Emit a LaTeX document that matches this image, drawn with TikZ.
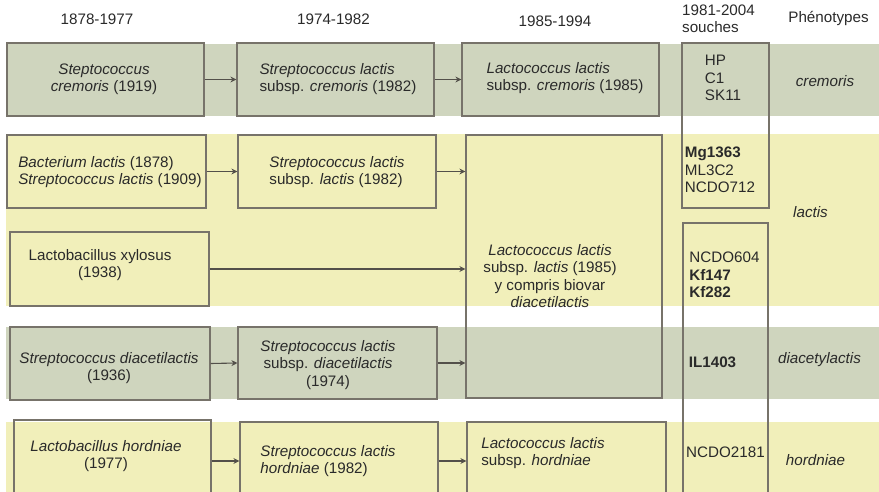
\documentclass[tikz,border=0pt]{standalone}
\usepackage{fontspec}
\setmainfont{Liberation Sans}
\usetikzlibrary{arrows.meta}
\definecolor{bandgrey}{HTML}{CFD5BE}
\definecolor{bandyellow}{HTML}{F1EFBA}
\definecolor{edge}{HTML}{77736A}
\definecolor{ink}{HTML}{2A2A2A}
\tikzset{
  box/.style={draw=edge, line width=1.2pt, fill=none, inner sep=0pt},
  txt/.style={font=\fontsize{15.2}{17.4}\selectfont, text=ink, inner sep=0pt},
  txtc/.style={txt, align=center},
  txtl/.style={txt, align=left},
  conn/.style={draw=edge!70!black, line width=1.1pt, -{Stealth[length=6pt,width=6pt,inset=2pt]}}
}
\begin{document}
\begin{tikzpicture}[x=1pt,y=-1pt]
\useasboundingbox (0,0) rectangle (879,492);
\clip (0,0) rectangle (879,492);
% bands
\fill[bandgrey] (6,44) rectangle (879,116);
\fill[bandyellow] (6,134) rectangle (879,306);
\fill[bandgrey] (6,327) rectangle (879,399);
\fill[bandyellow] (6,422) rectangle (879,500);
% headers
\node[txtc] (h1) at (97,19) {1878-1977};
\node[txtc] (h2) at (333.5,19) {1974-1982};
\node[txtc] (h3) at (555,21) {1985-1994};
\node[txtl, font=\fontsize{15.2}{17}\selectfont] (h4) at (718.5,18.5) {1981-2004\\souches};
\node[txtc] (h5) at (828.5,18) {Phénotypes};
% boxes
\node[box, minimum width=197pt, minimum height=73pt] (A) at (105.5,79.5) {};
\node[box, minimum width=197pt, minimum height=73pt] (B) at (335.5,79.5) {};
\node[box, minimum width=197pt, minimum height=73pt] (C) at (560.5,79.5) {};
\node[box, minimum width=87pt, minimum height=165pt] (S1) at (725.5,125.5) {};
\node[box, minimum width=199pt, minimum height=73pt] (D) at (106.5,171.5) {};
\node[box, minimum width=198pt, minimum height=73pt] (E) at (337,171.5) {};
\node[box, minimum width=196pt, minimum height=263pt] (F) at (564,266.5) {};
\node[box, minimum width=199pt, minimum height=74pt] (G) at (109.5,269) {};
\node[box, minimum width=85pt, minimum height=290pt] (S2) at (725.5,368) {};
\node[box, minimum width=200pt, minimum height=73pt] (H) at (110,363.5) {};
\node[box, minimum width=199pt, minimum height=72pt] (I) at (337.5,363) {};
\node[box, minimum width=197pt, minimum height=74pt] (J) at (112.5,457) {};
\node[box, minimum width=198pt, minimum height=78pt] (K) at (339,461) {};
\node[box, minimum width=199pt, minimum height=78pt] (L) at (566.5,461) {};
% texts
\node[txtc] (tA) at (104,79) {\textit{Steptococcus}\\\textit{cremoris} (1919)};
\node[txtl] (tB) at (338,79) {\textit{Streptococcus lactis}\\subsp. \textit{cremoris} (1982)};
\node[txtl] (tC) at (565,78) {\textit{Lactococcus lactis}\\subsp. \textit{cremoris} (1985)};
\node[txtl] (tD) at (110,172) {\textit{Bacterium lactis} (1878)\\\textit{Streptococcus lactis} (1909)};
\node[txtl] (tE) at (337,172) {\textit{Streptococcus lactis}\\subsp. \textit{lactis} (1982)};
\node[txtc] (tF) at (550,276) {\textit{Lactococcus lactis}\\subsp. \textit{lactis} (1985)\\y compris biovar\\\textit{diacetilactis}};
\node[txtc] (tG) at (100,265) {Lactobacillus xylosus\\(1938)};
\node[txtc] (tH) at (109,368) {\textit{Streptococcus diacetilactis}\\(1936)};
\node[txtc] (tI) at (328,365) {\textit{Streptococcus lactis}\\subsp. \textit{diacetilactis}\\(1974)};
\node[txtc] (tJ) at (106,456) {\textit{Lactobacillus hordniae}\\(1977)};
\node[txtl] (tK) at (328,461) {\textit{Streptococcus lactis}\\\textit{hordniae} (1982)};
\node[txtl] (tL) at (543,453) {\textit{Lactococcus lactis}\\subsp. \textit{hordniae}};
% strains
\node[txtl] (s1) at (723,78) {HP\\C1\\SK11};
\node[txtl] (s2) at (720,170) {\textbf{Mg1363}\\ML3C2\\NCDO712};
\node[txtl] (s3) at (724.5,275) {NCDO604\\\textbf{Kf147}\\\textbf{Kf282}};
\node[txtl] (s4) at (712.5,362) {\textbf{IL1403}};
\node[txtl] (s5) at (725.5,452) {NCDO2181};
% phenotypes
\node[txtc] (p1) at (825,81) {\textit{cremoris}};
\node[txtc] (p2) at (810.5,212) {\textit{lactis}};
\node[txtc] (p3) at (819.5,360) {\textit{diacetylactis}};
\node[txtc] (p4) at (815.5,460) {\textit{hordniae}};
% connectors
\draw[conn] (A.east) -- (B.west);
\draw[conn] (B.east) -- (C.west);
\draw[conn] (D.east) -- (E.west);
\draw[conn] (E.east) -- (E.east -| F.west);
\draw[conn] (G.east) -- (G.east -| F.west);
\draw[conn] (H.east) -- (I.west);
\draw[conn] (I.east) -- (I.east -| F.west);
\draw[conn] (K.west -| J.east) -- (K.west);
\draw[conn] (K.east) -- (L.west);
\end{tikzpicture}
\end{document}
